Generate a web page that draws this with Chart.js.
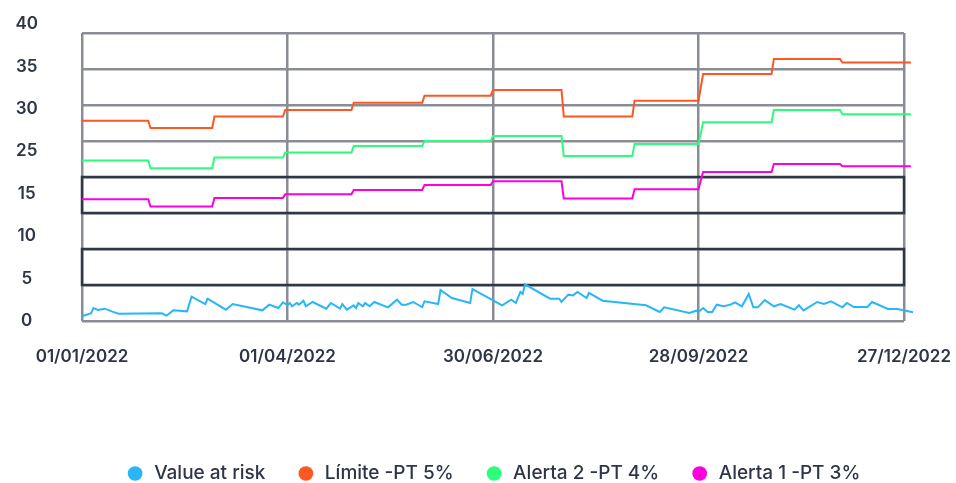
<!DOCTYPE html>
<html>
<head>
<meta charset="utf-8">
<script src="https://cdn.jsdelivr.net/npm/chart.js@4/dist/chart.umd.min.js"></script>
<style>
  html, body { margin: 0; padding: 0; background: #fff; }
  #wrap { width: 956px; height: 483px; }
</style>
</head>
<body>
<div id="wrap"><canvas id="chart"></canvas></div>
<script>
// x values are day numbers counted from 01/01/2022
const xTickDays = [0, 90, 180, 270, 360]
const xTickLabels = ['01/01/2022', '01/04/2022', '30/06/2022', '28/09/2022', '27/12/2022']
const yTickLabels = ['0', '5', '10', '15', '25', '30', '35', '40']
const yBoxes = [[15, 20], [5, 10]]

const varDays = [0, 4, 5, 7, 10, 13, 16, 35, 37, 40, 46, 48, 54, 55, 63, 66, 79, 82, 86, 88,
  90, 91, 92, 94, 95, 97, 98, 101, 107, 109, 113, 114, 116, 119, 120, 121, 123, 124, 126, 128,
  134, 138, 140, 142, 145, 149, 150, 156, 157, 162, 170, 171, 184, 188, 190, 192, 193, 194, 205, 209,
  210, 213, 215, 217, 221, 222, 228, 247, 253, 255, 266, 269, 270, 272, 274, 276, 278, 281, 284, 286,
  289, 292, 294, 296, 299, 303, 306, 312, 314, 316, 322, 325, 328, 333, 335, 338, 344, 346, 353, 357, 364]
const varValues = [0.65, 1.07, 1.8, 1.53, 1.71, 1.34, 1.02, 1.07, 0.74, 1.48, 1.34, 3.38, 2.36, 3.1, 1.57, 2.36, 1.48, 2.27, 1.8, 2.6,
  2.18, 2.5, 2.04, 2.5, 2.27, 2.82, 2.04, 2.64, 1.71, 2.5, 1.71, 2.36, 1.57, 2.18, 1.8, 2.5, 2.04, 2.5, 2.04, 2.64,
  1.9, 2.96, 2.27, 2.27, 2.64, 1.94, 2.73, 2.36, 4.31, 3.19, 2.5, 4.44, 2.18, 2.96, 2.5, 4.03, 3.75, 5.1, 3.1, 3.1,
  2.64, 3.66, 3.56, 4.03, 3.19, 3.89, 2.82, 2.18, 1.25, 1.9, 1.11, 1.43, 1.25, 1.8, 1.25, 1.25, 2.27, 2.04, 2.27, 2.6,
  2.04, 3.75, 1.9, 1.9, 2.9, 2.04, 2.36, 1.57, 2.18, 1.48, 2.64, 2.36, 2.73, 1.9, 2.5, 1.94, 1.94, 2.64, 1.67, 1.67, 1.21]

const limitDays = [0, 29, 30, 57, 58, 88, 89, 118, 119, 149, 150, 179, 180, 210, 211, 241, 242, 270, 272, 302, 303, 332, 333, 363, 364]
const limiteValues = [27.8, 27.8, 26.8, 26.8, 28.4, 28.4, 29.3, 29.3, 30.3, 30.3, 31.3, 31.3, 32.1, 32.1, 28.4, 28.4, 30.6, 30.6, 34.3, 34.3, 36.4, 36.4, 35.9, 35.9, 36.6]
const alerta2Values = [22.3, 22.3, 21.2, 21.2, 22.7, 22.7, 23.4, 23.4, 24.3, 24.3, 25.0, 25.0, 25.7, 25.7, 22.9, 22.9, 24.6, 24.6, 27.6, 27.6, 29.3, 29.3, 28.7, 28.7, 29.3]
const alerta1Values = [16.9, 16.9, 15.9, 15.9, 17.1, 17.1, 17.6, 17.6, 18.2, 18.2, 18.9, 18.9, 19.4, 19.4, 17.0, 17.0, 18.3, 18.3, 20.7, 20.7, 21.8, 21.8, 21.5, 21.5, 21.9]

const textColor = '#2d3646'
const gridColor = '#8a8d96'
const boxColor = '#2f3744'
const tickFont = { family: 'Inter', size: 17, weight: '600' }

function toPoints(days, values) {
  return days.map((d, i) => ({ x: d, y: values[i] }))
}

function lineDataset(label, color, data) {
  return {
    label,
    data,
    borderColor: color,
    backgroundColor: color,
    borderWidth: 2,
    pointRadius: 0,
    tension: 0,
    clip: false
  }
}

// dark outlined bands drawn over the grid
const bandsPlugin = {
  id: 'bands',
  beforeDatasetsDraw(chart) {
    const { ctx, scales: { x, y } } = chart
    ctx.save()
    ctx.strokeStyle = boxColor
    ctx.lineWidth = 2.5
    yBoxes.forEach(([lo, hi]) => {
      const left = x.getPixelForValue(xTickDays[0])
      const right = x.getPixelForValue(xTickDays[xTickDays.length - 1])
      const top = y.getPixelForValue(hi)
      const bottom = y.getPixelForValue(lo)
      ctx.strokeRect(left, top, right - left, bottom - top)
    })
    ctx.restore()
  }
}

// pull the legend row closer to the bottom edge
const legendShift = {
  id: 'legendShift',
  beforeInit(chart) {
    const fit = chart.legend.fit
    chart.legend.fit = function () {
      fit.call(this)
      this.height -= 10
    }
  }
}

new Chart(document.getElementById('chart'), {
  type: 'line',
  data: {
    datasets: [
      lineDataset('Value at risk', '#29b6f6', toPoints(varDays, varValues)),
      lineDataset('Límite -PT 5%', '#ff5722', toPoints(limitDays, limiteValues)),
      lineDataset('Alerta 2 -PT 4%', '#2bff79', toPoints(limitDays, alerta2Values)),
      lineDataset('Alerta 1 -PT 3%', '#ff00dd', toPoints(limitDays, alerta1Values))
    ]
  },
  plugins: [bandsPlugin, legendShift],
  options: {
    responsive: true,
    maintainAspectRatio: false,
    animation: false,
    layout: { padding: { top: 33, right: 52, left: 0, bottom: 0 } },
    plugins: {
      legend: {
        position: 'bottom',
        fullSize: false,
        labels: {
          usePointStyle: true,
          pointStyle: 'circle',
          boxHeight: 9,
          padding: 31,
          color: textColor,
          font: { family: 'Inter', size: 19, weight: '500' }
        }
      },
      tooltip: { enabled: false }
    },
    scales: {
      x: {
        type: 'linear',
        min: xTickDays[0],
        max: xTickDays[xTickDays.length - 1],
        afterBuildTicks: (scale) => { scale.ticks = xTickDays.map((v) => ({ value: v })) },
        afterFit: (scale) => { scale.height = 112 },
        ticks: {
          autoSkip: false,
          maxRotation: 0,
          padding: 0,
          color: textColor,
          font: tickFont,
          callback: (value, index) => xTickLabels[index]
        },
        grid: { color: gridColor, lineWidth: 2.5, drawTicks: true, tickLength: 26, tickColor: 'rgba(0,0,0,0)' },
        border: { display: false }
      },
      y: {
        min: 0,
        max: 40,
        weight: 0,
        afterFit: (scale) => { scale.width = 44 },
        ticks: { display: false, stepSize: 5 },
        grid: { color: gridColor, lineWidth: 2.5, drawTicks: false },
        border: { display: false }
      },
      yl: {
        position: 'left',
        weight: 1,
        min: 0,
        max: 6.79,
        afterBuildTicks: (scale) => { scale.ticks = yTickLabels.map((_, i) => ({ value: i })) },
        afterFit: (scale) => { scale.width = 38 },
        ticks: {
          autoSkip: false,
          crossAlign: 'center',
          padding: 0,
          color: textColor,
          font: tickFont,
          callback: (value, index) => yTickLabels[index]
        },
        grid: { display: false, drawTicks: false },
        border: { display: false }
      }
    }
  }
})
</script>
</body>
</html>
